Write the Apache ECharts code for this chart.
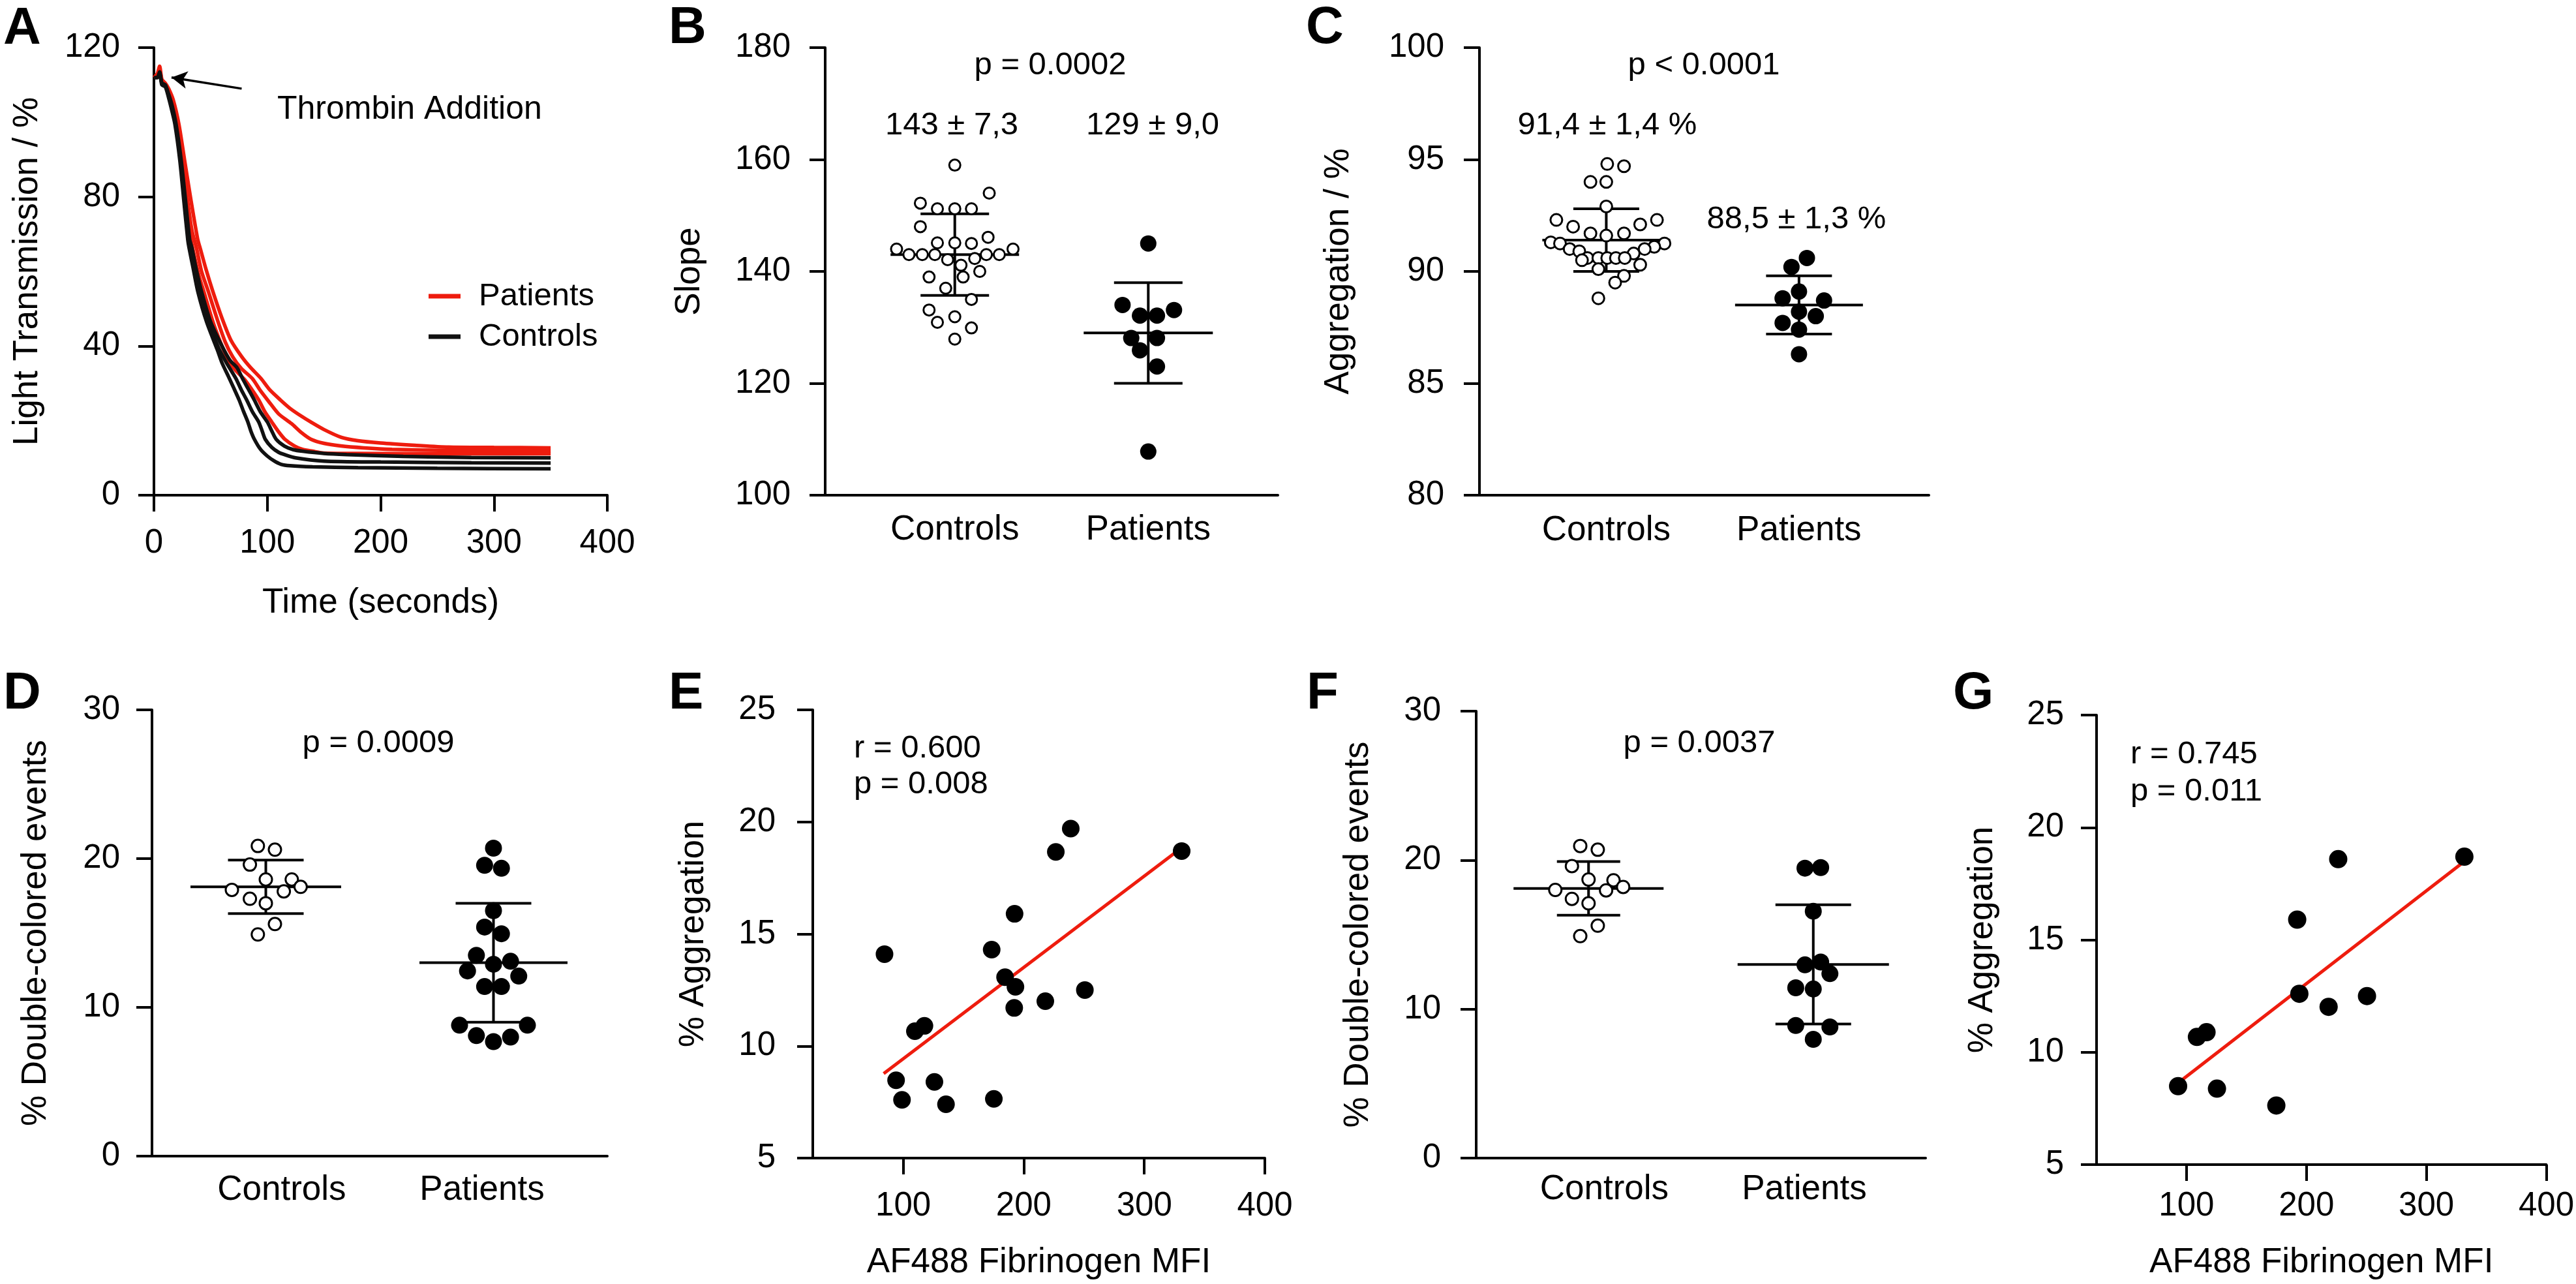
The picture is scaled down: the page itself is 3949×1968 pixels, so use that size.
<!DOCTYPE html>
<html><head><meta charset="utf-8">
<script src="https://cdn.jsdelivr.net/npm/echarts@6/dist/echarts.min.js"></script>
<style>html,body{margin:0;padding:0;background:#fff}#c{width:3949px;height:1968px}</style>
</head><body><div id="c"></div>
<script>
// ================= DATA =================
const groups = ['Controls', 'Patients'];
const mfiTicks = [100, 200, 300, 400];

// Panel A: light transmission traces [time s, %]
const patientCurve1 = [[0,112],[3,113],[5,115],[7,111.5],[10,110.5],[13,109],[17,106],[22,99.5],[27,89.9],[32.6,79.2],[38.6,68.6],[41,66],[46,60.5],[52,54.6],[60,47.5],[68,41.5],[77.5,37.1],[85,34.3],[94.4,31.3],[102,28.3],[111.7,25.5],[120,23.3],[130,21.2],[138.5,19.6],[150,17.6],[165.4,15.5],[180,14.6],[200,14],[230,13.4],[260,12.9],[300,12.8],[350,12.7]];
const patientCurve2 = [[0,112],[3,112.5],[5,114],[7,111],[10,110],[13,108.5],[16.5,105.5],[21,99],[25.5,90],[29.5,79.5],[33.5,71],[37.5,66.3],[42,60],[48,54.6],[56,47],[63,41],[69.5,37.1],[77,34],[86.7,31.3],[94,28],[101.1,25.2],[110,21.8],[121.3,19.2],[130,16.8],[138.5,15],[150,13.9],[165,13.2],[185,12.7],[210,12.3],[260,12],[350,11.9]];
const patientCurve3 = [[0,112],[3,112.5],[5,113.5],[7,111],[10,110],[13,108],[16,105],[20,99],[24,90],[28,79.5],[31.5,70.5],[35,65],[40,58.5],[44,54.6],[52,46.5],[60,40],[66,36],[72,33.5],[80,31],[86,28.5],[92.5,25.5],[98,22.3],[104,19.6],[110,17],[115.5,15],[124,13.2],[131,12.3],[140,11.8],[150,11.3],[180,11.2],[250,11.1],[350,11.1]];
const controlCurve1 = [[0,112],[3,112],[5,113.5],[7,110.5],[10,110],[13,107.5],[16,104.5],[19.5,99.5],[24,89.9],[27.8,79.2],[31.5,68.6],[33.5,66.3],[37,61],[42,54.6],[50,46.5],[60,40],[67,36.2],[73.3,34.2],[78.1,31.3],[83,28.6],[88.6,25.5],[94,22.3],[100.1,19.6],[104,17.2],[107.8,15],[115,13.2],[123,12.2],[131,11.8],[150,11.2],[170,10.9],[220,10.4],[280,10.1],[350,10.0]];
const controlCurve2 = [[0,112],[3,112],[5,113],[7,110.5],[10,110],[13,107],[15.5,104],[19,99.5],[23.5,89.9],[27,79.2],[30.5,68.6],[32,66.3],[35.5,61],[40,54.6],[48,46.5],[57,39.5],[64,35.5],[72.3,31.3],[77,28.3],[81.9,25.5],[87,22.3],[92.5,19.6],[95.5,17.2],[98.2,15],[104,12.8],[110,11.5],[115,10.9],[125,10],[150,9.15],[200,8.9],[280,8.7],[350,8.6]];
const controlCurve3 = [[0,112],[3,112],[5,113],[7,110],[10,109.5],[13,106.5],[15.5,103.5],[18.5,99.5],[22.8,89.9],[26.3,79.2],[29.8,68.6],[31,66.3],[34.5,61],[38.7,54.6],[46.4,46.5],[56,38.9],[60,35.5],[65.6,31.9],[70,29],[75.2,25.5],[79,22.5],[82.9,19.6],[85.5,17.2],[88.6,15],[94,12.3],[100,10.5],[106,9.2],[112,8.3],[120,7.9],[140,7.6],[180,7.4],[250,7.2],[350,7.1]];
const thrombinArrow = [[77.4, 109], [15.5, 112]];   // annotation arrow (tail, head) in data units

// Panel B: slope
const slopeControls = [159.0,154.0,152.2,151.2,151.2,151.2,148.0,145.1,145.1,145.0,146.1,144.0,144.0,143.0,143.0,143.0,142.1,141.1,142.3,143.0,143.0,140.0,139.0,139.0,137.0,135.0,133.1,131.9,130.9,129.9,127.9];
const slopePatients = [145.0,134.0,132.1,132.1,133.1,128.1,128.1,125.9,123.0,107.8];
const slopeMeans = [143, 129];
const slopeSDs = [7.3, 9.0];

// Panel C: aggregation
const aggControls = [94.8,94.7,94.0,94.0,92.9,92.3,92.3,92.0,92.1,91.7,91.7,91.6,91.3,91.25,91.0,91.25,91.1,91.0,90.9,90.8,90.6,90.6,90.6,90.6,90.6,90.5,90.3,90.1,89.8,89.5,88.8];
const aggPatients = [90.6,90.2,89.1,88.8,88.7,88.2,87.7,88.0,87.4,86.3];
const aggMeans = [91.4, 88.5];
const aggSDs = [1.4, 1.3];

// Panel D: double-colored events
const dceControlsD = [20.85,20.6,19.6,18.6,18.6,17.9,17.8,18.1,17.3,17.0,15.6,14.9];
const dcePatientsD = [20.7,19.55,19.35,16.5,15.4,14.95,13.5,13.1,12.9,12.45,12.1,11.4,11.4,8.8,8.8,8.1,8.0,7.7];
const dceMeansD = [18.1, 13.0];
const dceSDsD = [1.8, 4.0];

// Panel E: MFI vs aggregation
const mfiE = [84.5,94.1,99.0,109.7,117.6,125.9,135.5,173.4,175.2,184.5,193.1,192.4,192.1,217.9,226.6,239.0,250.7,331.0];
const aggE = [14.1,8.47,7.6,10.66,10.9,8.4,7.4,14.3,7.64,13.07,12.64,15.9,11.7,12.0,18.66,19.7,12.5,18.7];
const fitE = [[83.8, 8.77], [329.3, 18.78]];

// Panel F: double-colored events
const dceControlsF = [20.95,20.7,19.6,18.7,18.65,18.0,17.97,18.2,17.4,17.1,15.6,14.9];
const dcePatientsF = [19.46,19.5,16.57,12.97,13.16,12.38,11.43,11.35,8.9,8.8,7.97];
const dceMeansF = [18.1, 13.0];
const dceSDsF = [1.8, 4.0];

// Panel G: MFI vs aggregation
const mfiG = [93.0,108.7,116.7,125.4,174.9,192.3,194.1,218.5,226.5,250.5,331.7];
const aggG = [8.49,10.68,10.89,8.38,7.63,15.9,12.6,12.02,18.59,12.5,18.7];
const fitG = [[94.8, 8.71], [331, 18.46]];

// ================= LAYOUT (horizontal spread of dot plots, in category units) =================
const jitB1 = [0,0.178,-0.178,-0.09,0,0.086,-0.178,-0.09,0,0.086,0.172,-0.301,0.301,-0.237,-0.168,-0.103,-0.037,0.032,0.103,0.163,0.23,0.129,-0.133,0.043,-0.047,0.086,-0.133,0,-0.09,0.086,0];
const jitB2 = [0,-0.133,-0.043,0.045,0.133,-0.088,0.045,-0.043,0.045,0];
const jitC1 = [0.005,0.092,-0.082,0,0,-0.259,0.263,-0.172,0.176,-0.082,0.092,0,-0.288,-0.24,-0.19,0.302,0.249,0.199,-0.14,0.142,-0.098,-0.041,0.005,0.05,0.096,-0.126,0.176,-0.041,0.092,0.046,-0.041];
const jitC2 = [0.041,-0.039,0,-0.085,0.13,0,-0.085,0.087,0,0];
const jitD1 = [-0.035,0.04,-0.07,0,0.114,-0.149,0.079,0.153,-0.07,0,0.04,-0.035];
const jitD2 = [0,-0.039,0.035,0,-0.039,0.035,-0.075,0.075,0,-0.114,0.111,-0.039,0.035,-0.149,0.149,-0.075,0.075,0];
const jitF1 = [-0.037,0.041,-0.074,0,0.111,-0.148,0.078,0.154,-0.074,0,0.041,-0.037];
const jitF2 = [-0.037,0.033,0,-0.037,0.033,0.074,-0.078,0,-0.078,0.074,0];

// ================= CHART =================
const FONT = '"Liberation Sans", Arial, Helvetica, sans-serif';
const RED = '#ee1c0e';
const AX = { lineStyle: { color: '#000', width: 4 } };

function yAxis(gi, min, max, interval, name, nameGap, margin) {
  return { gridIndex: gi, type: 'value', min, max, interval,
    axisLine: { show: true, ...AX }, axisTick: { show: true, length: 24, ...AX },
    splitLine: { show: false },
    axisLabel: { fontSize: 51, color: '#000', fontFamily: FONT, margin },
    name, nameLocation: 'middle', nameRotate: 90, nameGap,
    nameTextStyle: { fontSize: 53, color: '#000', fontFamily: FONT } };
}
function catXAxis(gi, min, max, labelVals, margin) {
  return { gridIndex: gi, type: 'value', min, max,
    axisLine: { show: true, onZero: false, ...AX }, axisTick: { show: false }, splitLine: { show: false },
    axisLabel: { customValues: labelVals, fontSize: 53, color: '#000', fontFamily: FONT, margin,
      formatter: v => groups[Math.round(v) - 1] } };
}
function numXAxis(gi, min, max, ticks, name, nameGap, margin) {
  return { gridIndex: gi, type: 'value', min, max,
    axisLine: { show: true, onZero: false, ...AX },
    axisTick: { show: true, length: 25, customValues: ticks, ...AX }, splitLine: { show: false },
    axisLabel: { customValues: ticks, fontSize: 51, color: '#000', fontFamily: FONT, margin },
    name, nameLocation: 'middle', nameGap,
    nameTextStyle: { fontSize: 53, color: '#000', fontFamily: FONT } };
}
function curve(name, data, color) {
  return { type: 'line', name, data, xAxisIndex: 0, yAxisIndex: 0, color, showSymbol: false,
    smooth: 0.25, lineStyle: { color, width: 5.5 }, z: color === RED ? 3 : 4 };
}
function dots(gi, values, jit, centerIdx, open, size) {
  return { type: 'scatter', xAxisIndex: gi, yAxisIndex: gi, z: 5,
    data: values.map((v, i) => [centerIdx + jit[i], v]),
    symbol: 'circle', symbolSize: size,
    itemStyle: open ? { color: '#fff', borderColor: '#000', borderWidth: 3, opacity: 1 }
                    : { color: '#000', opacity: 1 } };
}
function errBars(gi, means, sds, meanW, sdW) {
  return { type: 'custom', xAxisIndex: gi, yAxisIndex: gi, z: 4, clip: false,
    data: means.map((m, i) => [i + 1, m, sds[i]]),
    encode: { x: 0, y: 1 },
    renderItem: (params, api) => {
      const x = api.value(0), m = api.value(1), s = api.value(2), i = params.dataIndex;
      const pm = api.coord([x, m]), ph = api.coord([x, m + s]), pl = api.coord([x, m - s]);
      const mh = meanW[i] / 2, sh = sdW[i] / 2;
      const style = { stroke: '#000', lineWidth: 4 };
      return { type: 'group', children: [
        { type: 'line', shape: { x1: pm[0] - mh, y1: pm[1], x2: pm[0] + mh, y2: pm[1] }, style },
        { type: 'line', shape: { x1: ph[0], y1: ph[1], x2: pl[0], y2: pl[1] }, style },
        { type: 'line', shape: { x1: ph[0] - sh, y1: ph[1], x2: ph[0] + sh, y2: ph[1] }, style },
        { type: 'line', shape: { x1: pl[0] - sh, y1: pl[1], x2: pl[0] + sh, y2: pl[1] }, style } ] };
    } };
}
function label(text, x, y, size, align, bold) {
  return { type: 'text', x, y, z: 10, style: { text, fill: '#000', align: align || 'center', verticalAlign: 'middle',
    font: (bold ? 'bold ' : '') + size + 'px ' + FONT } };
}

const option = {
  animation: false,
  backgroundColor: '#fff',
  grid: [
    { left: 236, top: 73, width: 695, height: 686 },   // A
    { left: 1265, top: 73, width: 694, height: 686 },  // B
    { left: 2268, top: 73, width: 689, height: 686 },  // C
    { left: 233, top: 1088, width: 698, height: 684 }, // D
    { left: 1246, top: 1088, width: 693, height: 687 },// E
    { left: 2263, top: 1090, width: 689, height: 685 },// F
    { left: 3214, top: 1096, width: 690, height: 689 } // G
  ],
  xAxis: [
    { gridIndex: 0, type: 'value', min: 0, max: 400, interval: 100,
      axisLine: { show: true, onZero: false, ...AX }, axisTick: { show: true, length: 25, ...AX },
      splitLine: { show: false },
      axisLabel: { fontSize: 51, color: '#000', fontFamily: FONT, margin: 48 },
      name: 'Time (seconds)', nameLocation: 'middle', nameGap: 139,
      nameTextStyle: { fontSize: 53, color: '#000', fontFamily: FONT } },
    catXAxis(1, 0.33, 2.67, [1, 2], 27),
    catXAxis(2, 0.342, 2.674, [1, 2], 28),
    catXAxis(3, 0.5, 2.5, [1.07, 1.95], 26),
    numXAxis(4, 25, 400, mfiTicks, 'AF488 Fibrinogen MFI', 134, 48),
    catXAxis(5, 0.5, 2.5, [1.07, 1.96], 22),
    numXAxis(6, 25, 400, mfiTicks, 'AF488 Fibrinogen MFI', 124, 38)
  ],
  yAxis: [
    yAxis(0, 0, 120, 40, 'Light Transmission / %', 167, 52),
    yAxis(1, 100, 180, 20, 'Slope', 181, 53),
    yAxis(2, 80, 100, 5, 'Aggregation / %', 189, 54),
    yAxis(3, 0, 30, 10, '% Double-colored events', 151, 49),
    yAxis(4, 5, 25, 5, '% Aggregation', 156, 57),
    yAxis(5, 0, 30, 10, '% Double-colored events', 154, 54),
    yAxis(6, 5, 25, 5, '% Aggregation', 148, 50)
  ],
  legend: {
    data: ['Patients', 'Controls'], orient: 'vertical', left: 652, top: 423,
    itemWidth: 49, itemHeight: 7, itemGap: 10, icon: 'rect', selectedMode: false,
    textStyle: { fontSize: 49, color: '#000', fontFamily: FONT, lineHeight: 52, padding: [0, 0, 0, 23] }
  },
  series: [
    curve('Controls', controlCurve1, '#111'),
    curve('Controls', controlCurve2, '#111'),
    curve('Controls', controlCurve3, '#111'),
    Object.assign(curve('Patients', patientCurve1, RED), {
      markLine: { silent: true, symbol: ['none', 'arrow'], symbolSize: [20, 24],
        lineStyle: { color: '#000', width: 3.5, type: 'solid' }, label: { show: false },
        data: [[{ coord: thrombinArrow[0] }, { coord: thrombinArrow[1] }]] } }),
    curve('Patients', patientCurve2, RED),
    curve('Patients', patientCurve3, RED),

    errBars(1, slopeMeans, slopeSDs, [197, 198], [105, 105]),
    dots(1, slopeControls, jitB1, 1, true, 17),
    dots(1, slopePatients, jitB2, 2, false, 25),

    errBars(2, aggMeans, aggSDs, [196, 196], [101, 101]),
    dots(2, aggControls, jitC1, 1, true, 18),
    dots(2, aggPatients, jitC2, 2, false, 25),

    errBars(3, dceMeansD, dceSDsD, [231, 227], [116, 116]),
    dots(3, dceControlsD, jitD1, 1, true, 19),
    dots(3, dcePatientsD, jitD2, 2, false, 26),

    { type: 'line', xAxisIndex: 4, yAxisIndex: 4, data: fitE, showSymbol: false, z: 3,
      lineStyle: { color: RED, width: 5 } },
    { type: 'scatter', xAxisIndex: 4, yAxisIndex: 4, z: 5, symbolSize: 27, itemStyle: { color: '#000', opacity: 1 },
      data: mfiE.map((x, i) => [x, aggE[i]]) },

    errBars(5, dceMeansF, dceSDsF, [230, 232], [97, 116]),
    dots(5, dceControlsF, jitF1, 1, true, 19),
    dots(5, dcePatientsF, jitF2, 2, false, 26),

    { type: 'line', xAxisIndex: 6, yAxisIndex: 6, data: fitG, showSymbol: false, z: 3,
      lineStyle: { color: RED, width: 5 } },
    { type: 'scatter', xAxisIndex: 6, yAxisIndex: 6, z: 5, symbolSize: 28, itemStyle: { color: '#000', opacity: 1 },
      data: mfiG.map((x, i) => [x, aggG[i]]) }
  ],
  graphic: [
    label('A', 5, 45, 80, 'left', true),
    label('B', 1025, 44, 80, 'left', true),
    label('C', 2002, 44, 80, 'left', true),
    label('D', 5, 1064, 80, 'left', true),
    label('E', 1025, 1064, 80, 'left', true),
    label('F', 2003, 1064, 80, 'left', true),
    label('G', 2994, 1064, 80, 'left', true),
    label('Thrombin Addition', 425, 168, 50, 'left'),
    label('p = 0.0002', 1610, 100, 49),
    label('143 ± 7,3', 1459, 192, 49),
    label('129 ± 9,0', 1767, 192, 49),
    label('p < 0.0001', 2612, 100, 49),
    label('91,4 ± 1,4 %', 2464, 192, 49),
    label('88,5 ± 1,3 %', 2754, 336, 49),
    label('p = 0.0009', 580, 1139, 49),
    label('p = 0.0037', 2605, 1139, 49),
    label('r = 0.600', 1309, 1147, 49, 'left'),
    label('p = 0.008', 1309, 1202, 49, 'left'),
    label('r = 0.745', 3266, 1156, 49, 'left'),
    label('p = 0.011', 3266, 1213, 49, 'left')
  ]
};
const chart = echarts.init(document.getElementById('c'), null, { renderer: 'canvas', width: 3949, height: 1968 });
chart.setOption(option);
</script>
</body></html>
